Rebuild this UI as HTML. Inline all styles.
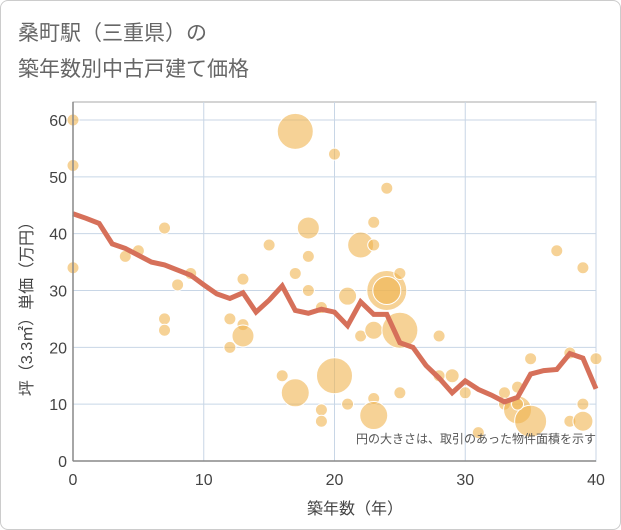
<!DOCTYPE html>
<html><head><meta charset="utf-8"><style>
body{margin:0;background:#fff;font-family:"Liberation Sans","Noto Sans CJK JP",sans-serif;}
#wrap{position:relative;width:619px;height:528px;border:1px solid #ccc;border-radius:8px;overflow:hidden;}
</style></head><body>
<div id="wrap">
<svg id="chart" width="621" height="530" style="position:absolute;left:-1px;top:-1px">
<text x="18" y="40" font-size="21" fill="#666" font-family="Liberation Sans,Noto Sans CJK JP,sans-serif">桑町駅（三重県）の</text>
<text x="18" y="76" font-size="21" fill="#666" font-family="Liberation Sans,Noto Sans CJK JP,sans-serif">築年数別中古戸建て価格</text>
<g id="grid"></g><g id="bubbles"></g><g id="line"></g><g id="axes"></g>
<text x="596" y="443" font-size="12" fill="#555" text-anchor="end" font-family="Liberation Sans,Noto Sans CJK JP,sans-serif">円の大きさは、取引のあった物件面積を示す</text>
<text x="355" y="514" font-size="16" fill="#444" text-anchor="middle" font-family="Liberation Sans,Noto Sans CJK JP,sans-serif">築年数（年）</text>
<text transform="translate(32,305) rotate(-90)" font-size="16" fill="#444" text-anchor="middle" font-family="Liberation Sans,Noto Sans CJK JP,sans-serif">坪（3.3㎡）単価（万円）</text>
</svg>
</div>
<script>
const xTicks=[0,10,20,30,40];
const yTicks=[0,10,20,30,40,50,60];
const lineX=[0,1,2,3,4,5,6,7,8,9,10,11,12,13,14,15,16,17,18,19,20,21,22,23,24,25,26,27,28,29,30,31,32,33,34,35,36,37,38,39,40];
const lineY=[43.5,42.7,41.8,38.2,37.4,36.2,35,34.5,33.6,32.7,31,29.4,28.6,29.6,26.2,28.3,30.8,26.5,26,26.7,26.2,23.8,28,25.8,25.8,20.8,20,16.8,14.6,12,14.1,12.6,11.6,10.4,11.2,15.3,15.9,16.1,18.9,18.1,12.7];
const bubbleX=[0,0,0,7,4,5,9,8,7,7,12,12,13,13,13,15,17,17,17,16,18,18,18,19,19,19,20,20,21,21,22,22,23,23,23,23,23,24,24,24,25,25,25,28,28,29,30,31,33,33,34,34,35,35,34,37,38,39,39,38,39,40];
const bubbleY=[60,52,34,41,36,37,33,31,25,23,25,20,24,22,32,38,58,33,12,15,41,36,30,27,9,7,54,15,29,10,38,22,42,38,23,11,8,48,30,30,33,23,12,22,15,15,12,5,12,10,13,9,7,18,10,37,19,34,10,7,7,18];
const bubbleArea=[36,36,36,36,36,36,36,36,36,36,36,36,36,121,36,36,324,36,196,36,121,36,36,36,36,36,36,324,81,36,169,36,36,36,81,36,196,36,400,196,36,324,36,36,36,49,36,36,36,36,36,196,256,36,36,36,36,36,36,36,100,36];
const NS="http://www.w3.org/2000/svg";
const X0=73,X1=596,Y0=461,Y1=120;
function sx(v){return X0+(v-0)/(40-0)*(X1-X0);}
function sy(v){return Y0-(v-0)/(60-0)*(Y0-Y1);}
function mk(t,a,p){const e=document.createElementNS(NS,t);for(const k in a)e.setAttribute(k,a[k]);p.appendChild(e);return e;}
const grid=document.getElementById('grid'),axes=document.getElementById('axes');
mk('rect',{x:X0,y:102,width:X1-X0,height:Y0-102,fill:'none',stroke:'#aaa','stroke-width':1},grid);
xTicks.forEach(t=>{
 const l=mk('line',{x1:sx(t),x2:sx(t),y1:102,y2:Y0,stroke:'#c8d6e6','stroke-width':1},grid);
 
 
 const tx=mk('text',{x:sx(t),y:Y0+24,'font-size':16,fill:'#444','text-anchor':'middle'},axes);
 tx.textContent=t;
 
 
});
yTicks.forEach(t=>{
 const l=mk('line',{x1:X0,x2:X1,y1:sy(t),y2:sy(t),stroke:'#c8d6e6','stroke-width':1},grid);
 
 
 const tx=mk('text',{x:X0-6,y:sy(t)+6,'font-size':16,fill:'#444','text-anchor':'end'},axes);
 tx.textContent=t;
 
 
});
mk('line',{x1:X0,x2:X0,y1:102,y2:Y0,stroke:'#888','stroke-width':1.5},axes);
mk('line',{x1:X0,x2:X1,y1:Y0,y2:Y0,stroke:'#888','stroke-width':1.5},axes);
const bg=document.getElementById('bubbles');
bubbleX.forEach((v,i)=>{
 const c=mk('circle',{cx:sx(v),cy:sy(bubbleY[i]),r:Math.sqrt(bubbleArea[i]),fill:'rgba(240,180,80,0.6)',stroke:'#fff','stroke-width':1},bg);
 
 
});
const pts=lineX.map((v,i)=>sx(v)+','+sy(lineY[i])).join(' ');
const pl=mk('polyline',{points:pts,fill:'none',stroke:'#d6705a','stroke-width':5,'stroke-linejoin':'miter'},document.getElementById('line'));


</script>
</body></html>
